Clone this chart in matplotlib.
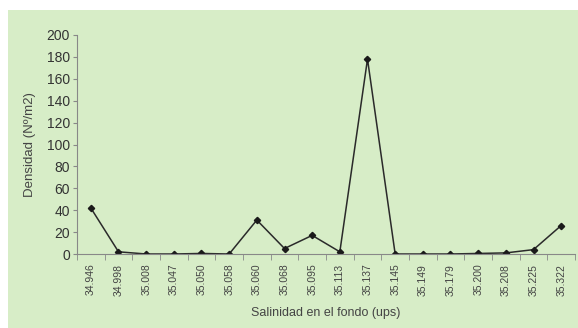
import numpy as np
import matplotlib.pyplot as plt
from matplotlib.patches import Rectangle

salinidad = ['34.946', '34.998', '35.008', '35.047', '35.050', '35.058',
             '35.060', '35.068', '35.095', '35.113', '35.137', '35.145',
             '35.149', '35.179', '35.200', '35.208', '35.225', '35.322']
densidad = [42, 2, 0, 0, 0.5, 0, 31, 5, 17, 2, 178, 0, 0, 0, 0.5, 1, 4, 26]

plt.rcParams['font.family'] = ['Liberation Sans', 'DejaVu Sans']

fig = plt.figure(figsize=(5.78, 3.28), dpi=100)
fig.patch.set_facecolor('white')
fig.patches.append(Rectangle((8/578, 0), 1, 1 - 10/328, transform=fig.transFigure,
                             facecolor='#d7edc7', edgecolor='none', zorder=-10))

ax = fig.add_axes([77/578, 1 - 254/328, 498/578, 219/328])
ax.set_facecolor('none')
x = np.arange(len(salinidad))
ax.plot(x, densidad, color='#2a2a2a', lw=1.1, marker='D', ms=3.2,
        markerfacecolor='#1a1a1a', markeredgecolor='#1a1a1a')

ax.set_xlim(-0.5, len(salinidad) - 0.5)
ax.set_ylim(0, 200)
ax.set_yticks(np.arange(0, 201, 20))
ax.set_xticks(x)
ax.set_xticklabels(salinidad, rotation=90, fontsize=7.5, color='#444444')
ax.set_xticks(np.arange(-0.5, len(salinidad), 1), minor=True)
ax.tick_params(axis='x', which='major', length=0, pad=7)
ax.tick_params(axis='x', which='minor', length=4, color='#888888', direction='out')
ax.tick_params(axis='y', length=3, color='#888888', labelsize=10, labelcolor='#333333', pad=2)

for s in ['top', 'right']:
    ax.spines[s].set_visible(False)
ax.spines['left'].set_color('#888888')
ax.spines['bottom'].set_color('#888888')

ax.set_ylabel('Densidad (Nº/m2)', fontsize=9.5, color='#444444', labelpad=8)
ax.set_xlabel('Salinidad en el fondo (ups)', fontsize=9, color='#444444', labelpad=8)

plt.savefig('out.png', dpi=100)
